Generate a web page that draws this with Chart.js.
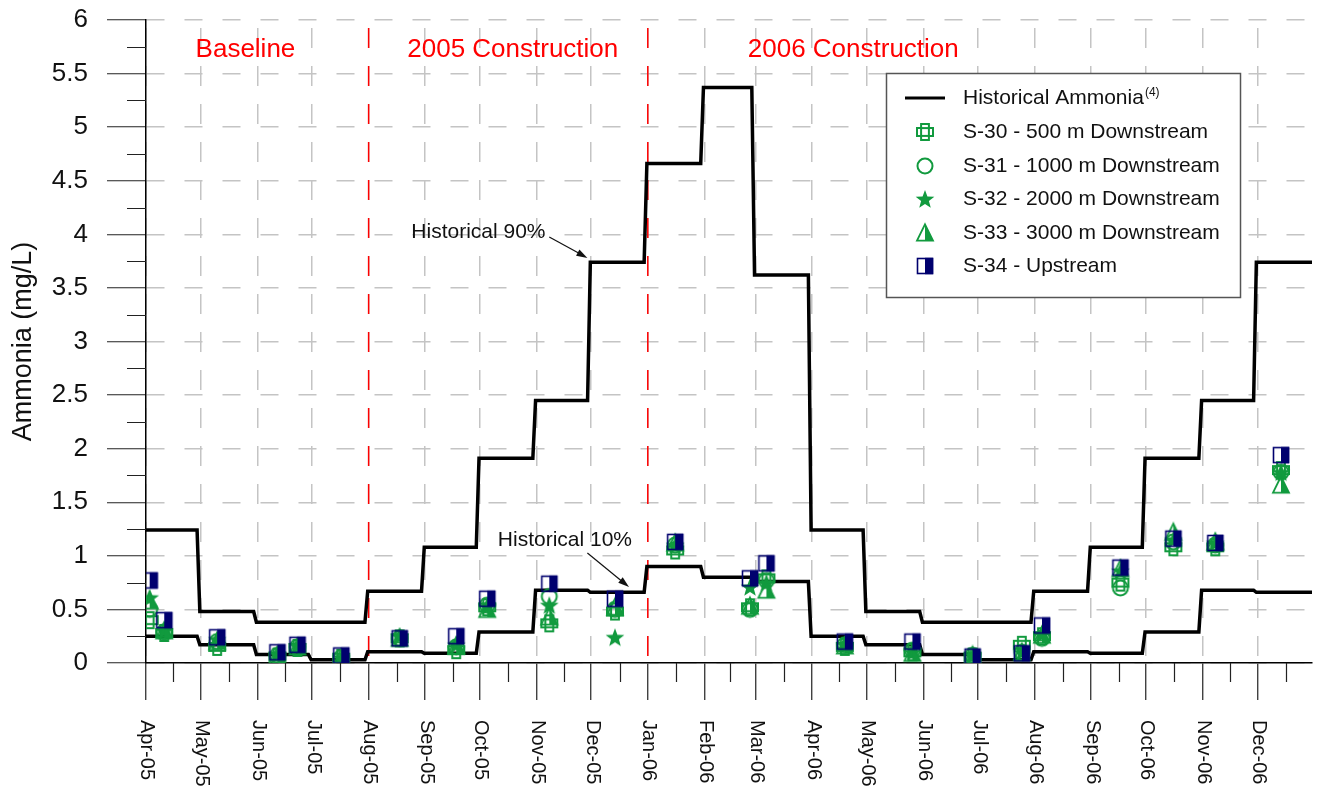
<!DOCTYPE html>
<html><head><meta charset="utf-8">
<script src="https://cdn.jsdelivr.net/npm/chart.js@4"></script>
<style>html,body{margin:0;padding:0;background:#fff}canvas{display:block}</style>
</head><body>
<canvas id="c" width="1320" height="791"></canvas>
<script>
// ---------- DATA ----------
const monthLabels = ['Apr-05','May-05','Jun-05','Jul-05','Aug-05','Sep-05','Oct-05','Nov-05','Dec-05',
  'Jan-06','Feb-06','Mar-06','Apr-06','May-06','Jun-06','Jul-06','Aug-06','Sep-06','Oct-06','Nov-06','Dec-06'];
const historical90 = [1.24,0.48,0.38,0.38,0.67,1.08,1.91,2.45,3.74,4.66,5.37,3.62,1.24,0.48,0.38,0.38,0.67,1.08,1.91,2.45,3.74];
const historical10 = [0.25,0.17,0.08,0.03,0.105,0.09,0.29,0.68,0.66,0.90,0.80,0.76,0.25,0.17,0.08,0.03,0.105,0.09,0.29,0.68,0.66];
const sampleDates = ['2005-04-03','2005-04-11','2005-05-10','2005-06-12','2005-06-23','2005-07-17','2005-08-18',
  '2005-09-18','2005-10-05','2005-11-08','2005-12-14','2006-01-16','2006-02-26','2006-03-07','2006-04-19',
  '2006-05-26','2006-06-28','2006-07-25','2006-08-05','2006-09-17','2006-10-16','2006-11-08','2006-12-14'];
const s30 = [0.40,0.28,0.15,0.06,0.14,0.05,0.23,0.12,0.52,0.37,0.48,1.05,0.52,0.79,0.15,0.10,0.06,0.17,0.25,0.75,1.08,1.08,1.80];
const s31 = [0.50,0.29,0.20,0.07,0.15,0.05,0.23,0.15,0.54,0.62,0.50,1.10,0.50,0.77,0.17,0.12,0.07,0.10,0.23,0.70,1.13,1.10,1.78];
const s32 = [0.61,0.30,0.22,0.08,0.16,0.05,0.25,0.17,0.53,0.54,0.24,1.10,0.71,0.75,0.17,0.10,0.07,0.10,0.27,0.86,1.15,1.12,1.78];
const s33 = [0.58,0.30,0.20,0.07,0.15,0.05,0.23,0.16,0.50,0.43,0.52,1.12,0.53,0.68,0.16,0.09,0.07,0.10,0.26,0.88,1.22,1.13,1.66];
const s34 = [0.77,0.40,0.24,0.10,0.17,0.07,0.23,0.25,0.60,0.74,0.60,1.13,0.79,0.93,0.20,0.20,0.06,0.09,0.35,0.89,1.16,1.12,1.94];
const seriesNames = ['S-30 - 500 m Downstream','S-31 - 1000 m Downstream','S-32 - 2000 m Downstream','S-33 - 3000 m Downstream','S-34 - Upstream'];
const phaseLabels = ['Baseline','2005 Construction','2006 Construction'];
const phaseBoundaries = ['2005-08-01','2006-01-01'];
const yTicks = [0,0.5,1,1.5,2,2.5,3,3.5,4,4.5,5,5.5,6];

// ---------- helpers ----------
const MON = {Jan:0,Feb:1,Mar:2,Apr:3,May:4,Jun:5,Jul:6,Aug:7,Sep:8,Oct:9,Nov:10,Dec:11};
const ORIGIN = Date.UTC(2005,3,1);
const dayOf = (y,m,d) => (Date.UTC(y,m,d) - ORIGIN)/86400000;
const dayOfStr = s => { const [y,m,d] = s.split('-').map(Number); return dayOf(y,m-1,d); };
const monthDay = monthLabels.map(l => { const [m,y] = l.split('-'); return dayOf(2000+Number(y), MON[m], 1); });
const lastLab = monthLabels[monthLabels.length-1].split('-');
const endDay = dayOf(2000+Number(lastLab[1]), MON[lastLab[0]]+1, 1);
const sampleDays = sampleDates.map(dayOfStr);

function stepPoints(vals){
  const pts = [];
  vals.forEach((v,i) => {
    const s = monthDay[i];
    const last = i === vals.length-1;
    pts.push({x: s - 0.5, y: v});
    pts.push({x: last ? endDay : monthDay[i+1] - 2, y: v});
  });
  return pts;
}
const pts = vals => vals.map((v,i) => ({x: sampleDays[i], y: v}));

const GREEN = '#119a3e', NAVY = '#00006e';
function mk(draw){ const c = document.createElement('canvas'); c.width = 22; c.height = 22; const g = c.getContext('2d'); g.translate(11,11); draw(g); return c; }
const mCross = mk(g => { g.strokeStyle = GREEN; g.lineWidth = 2;
  g.beginPath(); const a=3.9, r=8;
  g.moveTo(-a,-r); g.lineTo(a,-r); g.lineTo(a,-a); g.lineTo(r,-a); g.lineTo(r,a); g.lineTo(a,a); g.lineTo(a,r);
  g.lineTo(-a,r); g.lineTo(-a,a); g.lineTo(-r,a); g.lineTo(-r,-a); g.lineTo(-a,-a); g.closePath(); g.stroke();
  g.strokeRect(-a,-a,2*a,2*a); });
const mCircle = mk(g => { g.strokeStyle = GREEN; g.lineWidth = 2; g.beginPath(); g.arc(0,0,7.5,0,Math.PI*2); g.stroke(); });
const mStar = mk(g => { g.fillStyle = GREEN; g.beginPath();
  for (let i=0;i<10;i++){ const r = i%2 ? 4.1 : 9.8; const t = -Math.PI/2 + i*Math.PI/5; g.lineTo(r*Math.cos(t), r*Math.sin(t)+0.8); }
  g.closePath(); g.fill(); });
const mTri = mk(g => { g.strokeStyle = GREEN; g.fillStyle = GREEN; g.lineWidth = 1.8; g.lineJoin='miter';
  g.beginPath(); g.moveTo(0,-8.7); g.lineTo(8,7.7); g.lineTo(-8,7.7); g.closePath(); g.stroke();
  g.beginPath(); g.moveTo(0,-8.7); g.lineTo(8,7.7); g.lineTo(0,7.7); g.closePath(); g.fill(); });
const mSq = mk(g => { g.strokeStyle = NAVY; g.fillStyle = NAVY; g.lineWidth = 1.6;
  g.strokeRect(-7.5,-7.5,15,15); g.fillRect(0,-8.2,8.2,16.4); });
const markers = [mCross, mCircle, mStar, mTri, mSq];

// ---------- plugins ----------
const FONT = "'Liberation Sans', Arial, Helvetica, sans-serif";
Chart.defaults.font.family = FONT;

const decor = {
  id: 'decor',
  afterDraw(chart){
    const ctx = chart.ctx, xs = chart.scales.x, ys = chart.scales.y;
    const bottom = chart.chartArea.bottom;
    ctx.save();
    // minor ticks
    ctx.strokeStyle = '#222'; ctx.lineWidth = 1.2;
    ctx.beginPath();
    monthDay.forEach((s,i) => {
      const e = i < monthDay.length-1 ? monthDay[i+1] : endDay;
      const px = Math.round(xs.getPixelForValue((s+e)/2)) + 0.5;
      ctx.moveTo(px, bottom); ctx.lineTo(px, bottom + 19);
    });
    for (let i=0;i<yTicks.length-1;i++){
      const py = Math.round(ys.getPixelForValue((yTicks[i]+yTicks[i+1])/2)) + 0.5;
      ctx.moveTo(chart.chartArea.left - 19, py); ctx.lineTo(chart.chartArea.left, py);
    }
    ctx.stroke();
    // rotated month labels
    ctx.fillStyle = '#111'; ctx.font = '20px ' + FONT; ctx.textAlign = 'left'; ctx.textBaseline = 'middle';
    monthLabels.forEach((l,i) => {
      ctx.save(); ctx.translate(xs.getPixelForValue(monthDay[i]) + 1, bottom + 57); ctx.rotate(Math.PI/2);
      ctx.fillText(l, 0, 0); ctx.restore();
    });
    // phase labels
    ctx.fillStyle = '#ff0000'; ctx.font = '26px ' + FONT; ctx.textAlign = 'center'; ctx.textBaseline = 'middle';
    const phaseX = [54.5, 201, 387.6];
    phaseLabels.forEach((l,i) => ctx.fillText(l, xs.getPixelForValue(phaseX[i]), ys.getPixelForValue(5.72)));
    // annotations
    ctx.fillStyle = '#111'; ctx.strokeStyle = '#111'; ctx.font = '21px ' + FONT; ctx.textAlign = 'left';
    const notes = [
      {text:'Historical 90%', tx:145.4, ty:4.02, ax:221, ay:3.975, bx:241.9, by:3.78},
      {text:'Historical 10%', tx:192.8, ty:1.15, ax:241.9, ay:1.026, bx:264.7, by:0.709}
    ];
    notes.forEach(n => {
      ctx.fillText(n.text, xs.getPixelForValue(n.tx), ys.getPixelForValue(n.ty));
      const x1 = xs.getPixelForValue(n.ax), y1 = ys.getPixelForValue(n.ay);
      const x2 = xs.getPixelForValue(n.bx), y2 = ys.getPixelForValue(n.by);
      const ang = Math.atan2(y2-y1, x2-x1);
      ctx.lineWidth = 1.2; ctx.beginPath(); ctx.moveTo(x1,y1);
      ctx.lineTo(x2 - 8*Math.cos(ang), y2 - 8*Math.sin(ang)); ctx.stroke();
      ctx.beginPath(); ctx.moveTo(x2,y2);
      ctx.lineTo(x2 - 11*Math.cos(ang) + 3.5*Math.sin(ang), y2 - 11*Math.sin(ang) - 3.5*Math.cos(ang));
      ctx.lineTo(x2 - 11*Math.cos(ang) - 3.5*Math.sin(ang), y2 - 11*Math.sin(ang) + 3.5*Math.cos(ang));
      ctx.closePath(); ctx.fill();
    });
    // legend
    const L = {x:886, y:73, w:354, h:224};
    ctx.fillStyle = '#fff'; ctx.fillRect(L.x, L.y, L.w, L.h);
    ctx.strokeStyle = '#555'; ctx.lineWidth = 1.5; ctx.strokeRect(L.x+0.5, L.y+0.5, L.w, L.h);
    const rowY = [98, 132, 166, 199, 233, 266];
    ctx.strokeStyle = '#000'; ctx.lineWidth = 3.2; ctx.beginPath(); ctx.moveTo(905, rowY[0]); ctx.lineTo(945, rowY[0]); ctx.stroke();
    ctx.fillStyle = '#111'; ctx.font = '21px ' + FONT; ctx.textAlign = 'left'; ctx.textBaseline = 'middle';
    ctx.fillText('Historical Ammonia', 963, rowY[0]);
    const w = ctx.measureText('Historical Ammonia').width;
    ctx.font = '12px ' + FONT; ctx.fillText('(4)', 963 + w + 1, rowY[0] - 5);
    ctx.font = '21px ' + FONT;
    seriesNames.forEach((n,i) => {
      ctx.drawImage(markers[i], 925 - 11, rowY[i+1] - 11);
      ctx.fillText(n, 963, rowY[i+1]);
    });
    ctx.restore();
  }
};

const markerDs = (label, vals, mark, order) => ({
  label, data: pts(vals), showLine: false, pointStyle: mark, pointRadius: 7,
  borderColor: GREEN, backgroundColor: GREEN, order
});

new Chart(document.getElementById('c'), {
  type: 'line',
  data: {
    datasets: [
      markerDs(seriesNames[4], s34, mSq, 0),
      markerDs(seriesNames[3], s33, mTri, 1),
      markerDs(seriesNames[2], s32, mStar, 2),
      markerDs(seriesNames[1], s31, mCircle, 3),
      markerDs(seriesNames[0], s30, mCross, 4),
      {label:'Historical 90%', data: stepPoints(historical90), borderColor:'#000', borderWidth:3.5, pointRadius:0, tension:0, order:5},
      {label:'Historical 10%', data: stepPoints(historical10), borderColor:'#000', borderWidth:3.5, pointRadius:0, tension:0, order:6},
      ...phaseBoundaries.map((d,i) => ({label:'phase'+i, data:[{x:dayOfStr(d), y:6},{x:dayOfStr(d), y:0}],
        borderColor:'#ff0000', borderWidth:1.5, borderDash:[20,18], borderDashOffset:30, pointRadius:0, order:7}))
    ]
  },
  options: {
    responsive: false, animation: false, events: [],
    layout: {padding: {left: 0, right: 1, top: 20, bottom: 91}},
    plugins: {legend: {display: false}, tooltip: {enabled: false}},
    scales: {
      x: {
        type: 'linear', min: 0, max: endDay - 1,
        afterBuildTicks(scale){ scale.ticks = monthDay.map(v => ({value: v})); },
        ticks: {display: false},
        grid: {color: '#c4c4c4', lineWidth: 1.5, tickLength: 37, tickColor: '#222', tickWidth: 1.2},
        border: {color: '#000', width: 1.5, dash: [20,18], dashOffset: 30}
      },
      y: {
        type: 'linear', min: 0, max: 6,
        afterBuildTicks(scale){ scale.ticks = yTicks.map(v => ({value: v})); },
        afterFit(scale){ scale.width = 146; scale.paddingTop = 0; scale.paddingBottom = 0; },
        ticks: {font: {size: 26}, color: '#111', padding: 19, callback: v => String(v)},
        grid: {color: '#c4c4c4', lineWidth: 1.5, tickLength: 39, tickColor: '#222', tickWidth: 1.2},
        border: {color: '#000', width: 1.5, dash: [18,20]},
        title: {display: true, text: 'Ammonia (mg/L)', font: {size: 27}, color: '#111', padding: {top: 7, bottom: 0}}
      }
    }
  },
  plugins: [decor]
});
</script>
</body></html>
